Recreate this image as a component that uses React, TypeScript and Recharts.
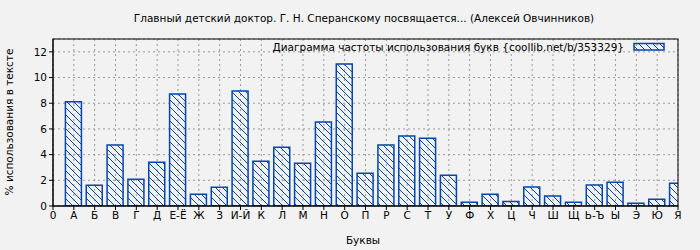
import { Bar, BarChart, CartesianGrid, XAxis, YAxis } from "recharts";

const letters = [
  "А", "Б", "В", "Г", "Д", "Е-Ё", "Ж", "З", "И-Й", "К", "Л", "М", "Н", "О", "П",
  "Р", "С", "Т", "У", "Ф", "Х", "Ц", "Ч", "Ш", "Щ", "Ь-Ъ", "Ы", "Э", "Ю", "Я",
];
const percents = [
  8.12, 1.61, 4.74, 2.08, 3.41, 8.72, 0.91, 1.46, 8.95, 3.49, 4.58, 3.33, 6.53, 11.06, 2.55,
  4.74, 5.44, 5.28, 2.39, 0.29, 0.91, 0.36, 1.48, 0.78, 0.29, 1.64, 1.85, 0.21, 0.52, 1.77,
];
const tickLabels = ["0", ...letters];
const yTicks = [0, 2, 4, 6, 8, 10, 12];

const data = letters.map((letter, i) => ({ idx: i + 1, letter, value: percents[i] }));
const xTicks = tickLabels.map((_, i) => i);

const BLUE = "#0046b0";
const FONT = "DejaVu Sans, sans-serif";

export default function App() {
  return (
    <div style={{ position: "absolute", left: 0, top: 0, width: 700, height: 250, background: "#f2f2f2", fontFamily: FONT }}>
      <BarChart width={700} height={250} data={data} margin={{ top: 39, right: 22, left: 8, bottom: 14 }}>
        <defs>
          <pattern id="hatch" patternUnits="userSpaceOnUse" width="7" height="7">
            <path d="M0,0 L7,7 M-1,6 L1,8 M6,-1 L8,1" stroke={BLUE} strokeWidth={1} />
          </pattern>
        </defs>
        <CartesianGrid stroke="#999" strokeDasharray="2 3" />
        <XAxis
          dataKey="idx"
          type="number"
          domain={[0, 30]}
          ticks={xTicks}
          interval={0}
          allowDataOverflow
          tickFormatter={(v: number) => tickLabels[v]}
          height={30}
          tickSize={4}
          stroke="#000"
          tick={{ fontSize: 10.5, fill: "#000", fontFamily: FONT }}
        />
        <YAxis
          domain={[0, 13]}
          ticks={yTicks}
          width={45}
          tickSize={4}
          stroke="#000"
          allowDataOverflow
          tick={{ fontSize: 10.5, fill: "#000", fontFamily: FONT }}
        />
        <Bar
          dataKey="value"
          barSize={16}
          fill="url(#hatch)"
          stroke={BLUE}
          strokeWidth={1.5}
          isAnimationActive={false}
        />
      </BarChart>
      <svg width={700} height={250} style={{ position: "absolute", left: 0, top: 0, pointerEvents: "none" }}>
        <defs>
          <pattern id="hatch2" patternUnits="userSpaceOnUse" width="7" height="7">
            <path d="M0,0 L7,7 M-1,6 L1,8 M6,-1 L8,1" stroke={BLUE} strokeWidth={1} />
          </pattern>
        </defs>
        <rect x={53} y={39} width={625} height={167} fill="none" stroke="#000" strokeWidth={1} />
        <text x={364} y={22} textAnchor="middle" fontSize={10.5} fontFamily={FONT} fill="#000">
          Главный детский доктор. Г. Н. Сперанскому посвящается... (Алексей Овчинников)
        </text>
        <text x={624} y={51} textAnchor="end" fontSize={10.5} fontFamily={FONT} fill="#000">
          Диаграмма частоты использования букв {"{coollib.net/b/353329}"}
        </text>
        <rect x={634} y={43.5} width={30} height={6.5} fill="url(#hatch2)" stroke={BLUE} strokeWidth={1.5} />
        <text x={363} y={244} textAnchor="middle" fontSize={10.5} fontFamily={FONT} fill="#000">
          Буквы
        </text>
        <text
          x={0}
          y={0}
          transform="translate(13,122) rotate(-90)"
          textAnchor="middle"
          fontSize={10.5}
          fontFamily={FONT}
          fill="#000"
        >
          % использования в тексте
        </text>
      </svg>
    </div>
  );
}
